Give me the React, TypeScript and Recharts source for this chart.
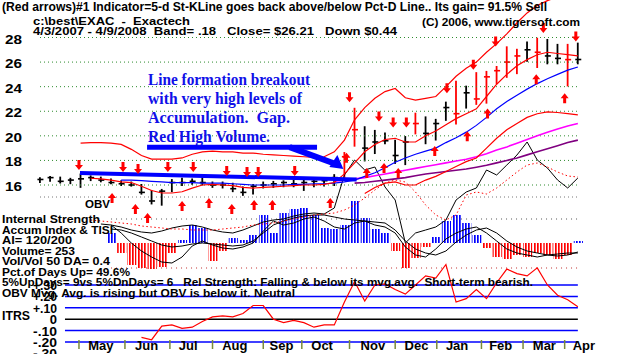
import React from "react";
import {
  ComposedChart,
  Line,
  Bar,
  Cell,
  Scatter,
  XAxis,
  YAxis,
  ReferenceLine,
  ReferenceDot,
} from "recharts";

const W = 627;
const H = 354;
const PH = 352; // plot height (two 1px month axes sit below it)
const sans = "'Liberation Sans', Arial, sans-serif";
const serif = "'Liberation Serif', 'Times New Roman', serif";

const lead = (n: number) => Array(n).fill(null);

// weekly bars, 4/3/2007 - 4/8/2008
const weeks = [
  "2007-04-03", "2007-04-10", "2007-04-17", "2007-04-24", "2007-05-01", "2007-05-08", "2007-05-15",
  "2007-05-22", "2007-05-29", "2007-06-05", "2007-06-12", "2007-06-19", "2007-06-26", "2007-07-03",
  "2007-07-10", "2007-07-17", "2007-07-24", "2007-07-31", "2007-08-07", "2007-08-14", "2007-08-21",
  "2007-08-28", "2007-09-04", "2007-09-11", "2007-09-18", "2007-09-25", "2007-10-02", "2007-10-09",
  "2007-10-16", "2007-10-23", "2007-10-30", "2007-11-06", "2007-11-13", "2007-11-20", "2007-11-27",
  "2007-12-04", "2007-12-11", "2007-12-18", "2007-12-25", "2008-01-01", "2008-01-08", "2008-01-15",
  "2008-01-22", "2008-01-29", "2008-02-05", "2008-02-12", "2008-02-19", "2008-02-26", "2008-03-04",
  "2008-03-11", "2008-03-18", "2008-03-25", "2008-04-01", "2008-04-08",
];

const priceHigh = [
  16.55, 16.65, 16.6, 16.5, 16.85, 16.7, 16.6, 16.45, 16.3, 16.2, 16.0, 15.5, 15.6, 16.4, 16.5, 16.45,
  16.55, 16.2, 16.2, 16.1, 15.8, 16.0, 16.2, 16.25, 16.3, 16.35, 16.5, 16.4, 16.45, 16.8, 18.6, 22.2,
  20.7, 20.4, 20.2, 19.6, 19.9, 21.8, 21.5, 21.3, 22.7, 24.4, 24.0, 25.1, 25.2, 25.6, 27.2, 27.0, 27.6,
  27.9, 27.8, 27.4, 27.4, 27.5,
];
const priceLow = [
  16.25, 16.35, 16.2, 16.15, 15.85, 16.4, 16.3, 16.15, 16.0, 15.95, 15.3, 14.5, 14.4, 15.5, 16.0, 16.1,
  16.05, 15.85, 15.8, 15.5, 15.2, 15.3, 15.8, 15.85, 15.9, 15.9, 15.6, 15.9, 15.95, 16.0, 16.6, 19.2,
  18.0, 18.6, 19.4, 17.8, 17.7, 20.2, 19.4, 19.7, 21.3, 21.0, 22.3, 22.6, 22.7, 24.3, 24.8, 25.1, 26.1,
  25.6, 25.9, 25.9, 24.1, 25.9,
];
const priceClose = [
  16.45, 16.6, 16.3, 16.4, 16.5, 16.6, 16.4, 16.2, 16.1, 16.0, 15.4, 14.7, 15.5, 16.2, 16.2, 16.3, 16.2,
  16.0, 16.0, 15.7, 15.4, 15.9, 16.0, 16.1, 16.2, 16.1, 16.2, 16.3, 16.35, 16.6, 18.3, 20.5, 19.0, 19.5,
  19.6, 18.4, 19.5, 21.0, 20.2, 21.0, 22.3, 21.8, 23.5, 23.0, 24.8, 25.3, 26.0, 26.5, 27.0, 26.8, 26.5,
  26.3, 26.2, 26.21,
];
// weeks drawn in red (high volume)
const redVolumeWeeks = [30, 31, 37, 41, 43, 44, 45, 46, 47, 49, 52];

const upperBand = [
  ...lead(4), 19.4, 19.45, 19.45, 19.4, 19.3, 18.9, 18.4, 18.1, 18.1, 18.1, 18.2, 18.5, 18.7, 18.75, 18.7,
  18.7, 18.6, 18.6, 18.5, 18.45, 18.4, 18.35, 18.3, 18.25, 18.3, 18.7, 19.65, 21.3, 22.3, 23.05, 23.6,
  23.85, 23.1, 22.9, 23.05, 23.2, 24.0, 24.85, 25.5, 26.0, 26.8, 27.5, 28.3, 29.2, 30.0, 30.6, 31.0, 31.3,
  31.3, 31.2,
];
const ma21 = [
  ...lead(5), 16.55, 16.5, 16.4, 16.25, 16.2, 15.9, 15.55, 15.35, 15.35, 15.45, 15.75, 16.0, 16.05, 16.0,
  15.95, 15.8, 15.75, 15.8, 15.85, 15.9, 15.95, 16.0, 16.0, 16.05, 16.2, 16.9, 17.8, 18.7, 19.3, 19.7,
  19.8, 19.5, 19.5, 20.0, 20.4, 20.9, 21.4, 21.8, 22.2, 23.2, 24.2, 25.0, 25.7, 26.2, 26.6, 26.8, 26.7,
  26.6, 26.5,
];
const lowerBand = [
  ...lead(32), 15.3, 15.8, 16.15, 16.25, 16.0, 16.0, 16.4, 16.7, 17.1, 17.5, 17.9, 18.2, 19.0, 19.8, 20.5,
  21.0, 21.5, 21.8, 21.95, 21.9, 21.8, 21.7,
];
const ma50 = [
  ...lead(8), 16.4, 16.4, 16.35, 16.3, 16.25, 16.2, 16.2, 16.2, 16.15, 16.15, 16.15, 16.1, 16.05, 16.0,
  16.0, 16.0, 16.0, 16.05, 16.05, 16.1, 16.1, 16.15, 16.25, 16.4, 16.7, 17.0, 17.4, 17.85, 18.2, 18.5,
  18.75, 19.0, 19.45, 19.85, 20.3, 20.85, 21.5, 22.2, 22.8, 23.3, 23.8, 24.25, 24.65, 25.0, 25.35, 25.6,
];
const maLongA = [
  ...lead(29), 16.3, 16.4, 16.5, 16.6, 16.75, 16.9, 17.05, 17.2, 17.35, 17.5, 17.65, 17.8, 17.95, 18.1,
  18.3, 18.55, 18.85, 19.1, 19.4, 19.7, 20.0, 20.3, 20.55, 20.8, 21.0,
];
const maLongB = [
  ...lead(31), 16.15, 16.2, 16.3, 16.4, 16.5, 16.6, 16.75, 16.9, 17.0, 17.1, 17.2, 17.3, 17.45, 17.6,
  17.8, 18.0, 18.2, 18.45, 18.7, 18.95, 19.2, 19.45, 19.65,
];

// OBV and its moving average (arbitrary units)
const obv = [
  ...lead(6), -24, -25, -27, -30, -32, -33, -31, -28, -26, -25, -27, -30, -32, -33, -30, -26, -22, -20,
  -19, -16, -14, -13, -14, -8, 25, 40, 30, 33, 13, 0, -43, -33, -30, -27, -20, 0, 8, 12, 30, 25, 35, 45,
  58, 40, 32, 20, 12, 22,
];
const obvMa = [
  ...lead(5), -20, -21, -22, -23, -24, -26, -27, -28, -29, -29, -30, -30, -30, -29, -28, -27, -25, -24,
  -23, -21, -19, -17, -15, -14, -13, -10, -5, 2, 10, 17, 20, 18, 8, -5, -15, -20, -15, 5, 8, 6, 12, 20,
  28, 35, 37, 33, 28, 24, 23,
];

// Accumulation index histogram and TISI lines
const accumIndex = [
  ...lead(7), 10, -10, -22, -25, -26, -24, -10, 3, 18, 15, -18, -8, 5, 3, 8, 28, 10, 30, 34, 35, 28, 15,
  14, 18, 42, 25, 14, 10, -8, -25, -15, -4, 6, 22, 28, 20, 8, -5, -14, -16, -12, -14, -10, -12, -16, -12, 2,
];
const tisi = [
  ...lead(7), 18, 10, 0, -8, -14, -19, -20, -14, -3, 2, -2, -5, -6, -4, 0, 12, 22, 18, 20, 24, 26, 22, 16,
  14, 20, 22, 18, 16, 10, -4, -12, -14, -6, 4, 10, 14, 16, 10, 2, -6, -10, -12, -14, -12, -13, -12, -9,
];
const tisiMa = [
  ...lead(7), 14, 13, 10, 6, 2, -2, -4, -3, -1, 0, -1, -2, -3, -2, 2, 10, 18, 22, 25, 27, 28, 28, 26, 24,
  23, 22, 21, 20, 13, 2, -6, -10, -12, -8, 1, 8, 13, 15, 10, 2, -4, -8, -10, -12, -11, -10, -10,
];

// ITRS (relative strength)
const itrs = [
  ...lead(10), -0.16, -0.18, -0.06, -0.05, -0.08, -0.07, -0.02, 0.02, 0.03, 0.02, 0.05, 0.12, 0.12, 0.0,
  -0.03, -0.01, -0.03, -0.07, -0.05, -0.05, 0.15, 0.33, 0.16, 0.3, 0.31, 0.26, 0.22, 0.3, 0.38, 0.36, 0.48,
  0.15, 0.18, 0.26, 0.18, 0.32, 0.44, 0.4, 0.38, 0.45, 0.3, 0.21, 0.17, 0.11,
];
const itrsLevels = [0.3, 0.2, 0.1, 0, -0.1, -0.2];
const itrsTicks = [0.3, 0.2, 0.1, 0, -0.1, -0.2, -0.3];

// red signal arrows (week index, price level)
const sellArrowWeeks = [3.84, 8.18, 9.66, 12.6, 15.1, 18.4, 20.4, 21.5, 25.1, 30.5, 33.4, 34.8, 36.1, 40.1, 42.7, 44.9, 49.6, 52.8];
const sellArrowPrices = [17.54, 17.38, 17.22, 17.38, 17.38, 17.05, 16.97, 16.97, 17.05, 23.06, 21.5, 21.0, 21.0, 23.8, 25.7, 27.6, 28.7, 28.0];
const buyArrowWeeks = [7.1, 9.4, 10.6, 14.0, 16.65, 18.9, 21.1, 22.9, 28.6, 30.2, 32.2, 33.9, 35.3, 38.9, 42.1, 44.1, 48.9, 51.7];
const buyArrowPrices = [15.03, 14.13, 13.4, 14.38, 14.62, 14.13, 14.46, 14.46, 14.62, 18.3, 17.05, 17.46, 17.05, 18.84, 20.05, 21.9, 24.68, 23.14];

const gridPrices = [16, 18, 20, 22, 24, 26, 28];

const monthNames = ["May", "Jun", "Jul", "Aug", "Sep", "Oct", "Nov", "Dec", "Jan", "Feb", "Mar", "Apr"];
const monthStarts = [3.84, 8.37, 12.8, 17.0, 22.0, 25.8, 30.5, 35.0, 39.1, 43.5, 47.6, 51.7];
const monthMids = [6.0, 10.5, 14.6, 19.2, 23.8, 27.8, 32.8, 37.1, 41.1, 45.4, 49.7, 53.6];

const rows = weeks.map((date, i) => ({
  i,
  date,
  high: priceHigh[i],
  low: priceLow[i],
  close: priceClose[i],
  hv: redVolumeWeeks.includes(i),
  upper: upperBand[i],
  ma21: ma21[i],
  lower: lowerBand[i],
  ma50: ma50[i],
  longA: maLongA[i],
  longB: maLongB[i],
  obv: obv[i],
  obvMa: obvMa[i],
  ai: accumIndex[i],
  tisi: tisi[i],
  tisiMa: tisiMa[i],
  itrs: itrs[i],
}));
const sellArrows = sellArrowWeeks.map((i, k) => ({ i, p: sellArrowPrices[k] }));
const buyArrows = buyArrowWeeks.map((i, k) => ({ i, p: buyArrowPrices[k] }));

// domain so that v1 lands on pixel y1 and v2 on y2 over the plot height
function span(v1: number, y1: number, v2: number, y2: number): [number, number] {
  const perPx = (v1 - v2) / (y2 - y1);
  return [v1 - (PH - y1) * perPx, v1 + y1 * perPx];
}
const priceDomain = span(28, 37.5, 16, 185);
const obvDomain = span(0, 200, 100, 100);
const aiDomain = span(0, 243, 100, 143);
const itrsDomain = span(0.3, 285, -0.2, 342);

const PriceBar = (props: any) => {
  const { x, y, width, height, payload } = props;
  if (payload == null || payload.high == null) return null;
  const cx = x + width / 2;
  const cy = y + ((payload.high - payload.close) / (payload.high - payload.low)) * height;
  const c = payload.hv ? "#ff0000" : "#000000";
  return (
    <g>
      <line x1={cx} x2={cx} y1={y - 1} y2={y + height + 1} stroke={c} strokeWidth={1.8} />
      <line x1={cx - 2.5} x2={cx + 3.5} y1={cy} y2={cy} stroke={c} strokeWidth={1.6} />
    </g>
  );
};

const SellArrow = (props: any) => {
  const { cx, cy } = props;
  return <path d={`M${cx - 1.5},${cy - 6} h3 v5 h2.5 l-4,5 l-4,-5 h2.5 z`} fill="#ff0000" />;
};
const BuyArrow = (props: any) => {
  const { cx, cy } = props;
  return <path d={`M${cx - 1.5},${cy + 6} h3 v-5 h2.5 l-4,-5 l-4,5 h2.5 z`} fill="#ff0000" />;
};

const PriceTick = (props: any) => {
  const { y, payload } = props;
  return (
    <text x={5} y={y + 6} fontSize={13} fontWeight="bold" fontFamily={sans} fill="#000"
      textLength={17} lengthAdjust="spacingAndGlyphs">
      {payload.value}
    </text>
  );
};

const ItrsTick = (props: any) => {
  const { y, payload } = props;
  const v = payload.value;
  let s = "0";
  if (v !== 0) s = (v > 0 ? "+" : "") + v.toFixed(2).replace("0.", ".");
  return (
    <text x={57} y={y + 5} fontSize={13} fontWeight="bold" fontFamily={sans} fill="#000"
      textAnchor="end" textLength={v === 0 ? undefined : 24} lengthAdjust="spacingAndGlyphs">
      {s}
    </text>
  );
};

const MonthMark = (props: any) => {
  const { x } = props;
  return <line x1={x} x2={x} y1={340} y2={349} stroke="#7a8a3a" strokeWidth={1.5} />;
};
const MonthLabel = (props: any) => {
  const { x, payload } = props;
  const name = monthNames[monthMids.indexOf(payload.value)];
  return (
    <text x={x} y={350} textAnchor="middle" fontSize={13} fontWeight="bold" fontFamily={sans} fill="#000">
      {name}
    </text>
  );
};

const ArrowHead = (props: any) => {
  const { cx, cy } = props;
  return <polygon points={`${cx + 3},${cy + 3} ${cx - 11},${cy + 1} ${cx - 3},${cy - 11}`} fill="#0000ff" />;
};

const T = (p: { x: number; y: number; w?: number; size?: number; children: React.ReactNode }) => (
  <text x={p.x} y={p.y} fontSize={p.size || 11.5} fontWeight="bold" fontFamily={sans} fill="#000"
    textLength={p.w} lengthAdjust="spacingAndGlyphs" style={{ whiteSpace: "pre" }}>
    {p.children}
  </text>
);
const Note = (p: { y: number; w: number; children: React.ReactNode }) => (
  <text x={148} y={p.y} fontSize={17} fontWeight="bold" fontFamily={serif} fill="#1010e8"
    textLength={p.w} lengthAdjust="spacingAndGlyphs" style={{ whiteSpace: "pre" }}>
    {p.children}
  </text>
);

export default function App() {
  return (
    <div style={{ position: "absolute", left: 0, top: 0, width: W, height: H, background: "#fff", overflow: "hidden" }}>
      <svg width={0} height={0} style={{ position: "absolute" }}>
        <defs>
          <pattern id="blueStripe" patternUnits="userSpaceOnUse" width={3} height={4}>
            <rect x={0} y={0} width={1.7} height={4} fill="#0000ff" />
          </pattern>
          <pattern id="redStripe" patternUnits="userSpaceOnUse" width={3} height={4}>
            <rect x={0} y={0} width={1.7} height={4} fill="#ff0000" />
          </pattern>
        </defs>
      </svg>
      <div style={{ position: "absolute", left: 0, top: 0 }}>
        <ComposedChart width={W} height={H} data={rows} margin={{ top: 0, right: 39, bottom: 0, left: 38 }}
          barCategoryGap={0} barGap={0}>
          <XAxis xAxisId={0} dataKey="i" type="number" domain={[0, 54]} hide />
          <XAxis xAxisId="bars" dataKey="i" type="number" domain={[0, 54]} hide />
          <XAxis xAxisId="hist" dataKey="i" type="number" domain={[0, 54]} hide />
          <XAxis xAxisId="mt" dataKey="i" type="number" domain={[0, 54]} height={1} ticks={monthStarts}
            interval={0} axisLine={false} tickLine={false} tick={<MonthMark />} />
          <XAxis xAxisId="ml" dataKey="i" type="number" domain={[0, 54]} height={1} ticks={monthMids}
            interval={0} axisLine={false} tickLine={false} tick={<MonthLabel />} />

          <YAxis yAxisId="price" type="number" domain={priceDomain} allowDataOverflow width={1}
            ticks={gridPrices} interval={0} axisLine={false} tickLine={false} tick={<PriceTick />} />
          <YAxis yAxisId="obv" type="number" domain={obvDomain} allowDataOverflow hide />
          <YAxis yAxisId="ai" type="number" domain={aiDomain} allowDataOverflow hide />
          <YAxis yAxisId="itrs" type="number" domain={itrsDomain} allowDataOverflow width={1}
            ticks={itrsTicks} interval={0} axisLine={false} tickLine={false} tick={<ItrsTick />} />

          {gridPrices.map((p) => (
            <ReferenceLine key={p} yAxisId="price" segment={[{ x: 0, y: p }, { x: 53, y: p }]}
              stroke="#2e8b2e" strokeDasharray="1 3" />
          ))}
          <ReferenceLine yAxisId="ai" segment={[{ x: 0, y: 46 }, { x: 53, y: 46 }]} stroke="#777" strokeDasharray="1 3" />
          <ReferenceLine yAxisId="ai" segment={[{ x: 7, y: 24 }, { x: 53, y: 24 }]} stroke="#555" strokeDasharray="1 4" />
          <ReferenceLine yAxisId="ai" segment={[{ x: 7, y: -25 }, { x: 53, y: -25 }]} stroke="#c03030" strokeDasharray="1 4" />

          <Bar xAxisId="hist" yAxisId="ai" dataKey="ai" barSize={11} isAnimationActive={false}>
            {rows.map((r) => (
              <Cell key={r.i} fill={r.ai != null && r.ai < 0 ? "url(#redStripe)" : "url(#blueStripe)"} />
            ))}
          </Bar>
          <Line yAxisId="ai" dataKey="tisi" stroke="#000" strokeWidth={1} dot={false} isAnimationActive={false} />
          <Line yAxisId="ai" dataKey="tisiMa" stroke="#000" strokeWidth={1} dot={false} isAnimationActive={false} />

          <Line yAxisId="obv" dataKey="obv" stroke="#000" strokeWidth={1} dot={false} isAnimationActive={false} />
          <Line yAxisId="obv" dataKey="obvMa" stroke="#ff0000" strokeWidth={1} strokeDasharray="1.5 2.5" dot={false} isAnimationActive={false} />

          <Line yAxisId="price" dataKey="longB" stroke="#800080" strokeWidth={1.6} dot={false} isAnimationActive={false} />
          <Line yAxisId="price" dataKey="longA" stroke="#ff00ff" strokeWidth={1.6} dot={false} isAnimationActive={false} />
          <Line yAxisId="price" dataKey="lower" stroke="#ff0000" strokeWidth={1.2} dot={false} isAnimationActive={false} />
          <Line yAxisId="price" dataKey="ma50" stroke="#0000ff" strokeWidth={1.2} dot={false} isAnimationActive={false} />
          <Line yAxisId="price" dataKey="ma21" stroke="#ff0000" strokeWidth={1.2} dot={false} isAnimationActive={false} />
          <Line yAxisId="price" dataKey="upper" stroke="#ff0000" strokeWidth={1.2} dot={false} isAnimationActive={false} />

          <ReferenceLine yAxisId="price" segment={[{ x: 10.55, y: 19.08 }, { x: 27.3, y: 19.08 }]} stroke="#0000ff" strokeWidth={5} />
          <ReferenceLine yAxisId="price" segment={[{ x: 24.6, y: 19.08 }, { x: 29.0, y: 17.75 }]} stroke="#0000ff" strokeWidth={6} />
          <ReferenceDot yAxisId="price" x={29.6} y={17.55} r={0} shape={<ArrowHead />} />
          <ReferenceLine yAxisId="price" segment={[{ x: 3.94, y: 16.97 }, { x: 31.2, y: 16.45 }]} stroke="#0000ff" strokeWidth={4} />

          <Bar xAxisId="bars" yAxisId="price" dataKey={(d: any) => [d.low, d.high]} barSize={4}
            shape={<PriceBar />} isAnimationActive={false} />

          <Scatter yAxisId="price" data={sellArrows} dataKey="p" shape={<SellArrow />} isAnimationActive={false} />
          <Scatter yAxisId="price" data={buyArrows} dataKey="p" shape={<BuyArrow />} isAnimationActive={false} />

          {itrsLevels.map((v) => (
            <ReferenceLine key={v} yAxisId="itrs" segment={[{ x: 2.46, y: v }, { x: 53, y: v }]}
              stroke={v === 0 ? "#000" : "#0000ff"} strokeWidth={1.5} />
          ))}
          <Line yAxisId="itrs" dataKey="itrs" stroke="#ff0000" strokeWidth={1.2} dot={false} isAnimationActive={false} />
        </ComposedChart>
      </div>
      <svg width={W} height={H} style={{ position: "absolute", left: 0, top: 0, pointerEvents: "none" }}>
        <T x={2} y={10.5} w={545} size={12}>(Red arrows)#1 Indicator=5-d St-KLine goes back above/below Pct-D Line.. Its gain= 91.5% Sell</T>
        <T x={33} y={24.5} w={157}>{"c:\\best\\EXAC  -  Exactech"}</T>
        <T x={33} y={34.5} w={364}>{"4/3/2007 - 4/9/2008  Band= .18   Close= $26.21   Down $0.44"}</T>
        <T x={422} y={25.5} w={158}>(C) 2006, www.tigersoft.com</T>
        <T x={85} y={208} w={25}>OBV</T>
        <T x={2} y={223} w={98}>Internal Strength</T>
        <T x={2} y={233.5} w={111}>{"Accum Index & TISI"}</T>
        <T x={2} y={244} w={70}>AI= 120/200</T>
        <T x={2} y={254.5} w={73}>Volume= 253</T>
        <T x={2} y={265} w={108}>Vol/Vol 50 DA= 0.4</T>
        <T x={2} y={275.5} w={128}>Pct.of Days Up= 49.6%</T>
        <T x={2} y={286} w={531}>{"5%UpDays= 9vs 5%DnDays= 6   Rel Strength: Falling & below its mvg.avg.  Short-term bearish."}</T>
        <T x={2} y={296.5} w={293}>OBV Mvg. Avg. is rising but OBV is below it. Neutral</T>
        <T x={2} y={320} w={28} size={12}>ITRS</T>
        <Note y={85} w={162}>Line formation breakout</Note>
        <Note y={104} w={154}>with very high levels of</Note>
        <Note y={123} w={142}>{"Accumulation.  Gap."}</Note>
        <Note y={142} w={122}>Red High Volume.</Note>
      </svg>
    </div>
  );
}
